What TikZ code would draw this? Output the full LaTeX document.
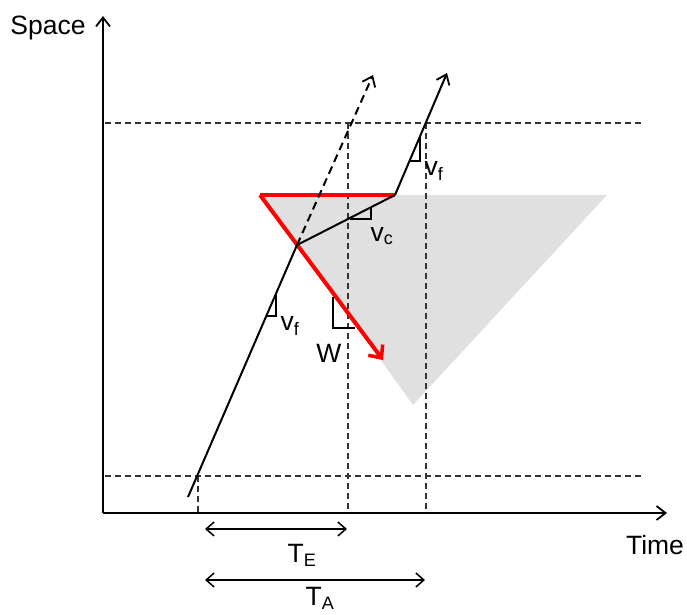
\documentclass[tikz,border=0pt]{standalone}
\usepackage{fontspec}
\setmainfont{Liberation Sans}
\usetikzlibrary{arrows.meta}
\begin{document}
\begin{tikzpicture}[x=1pt,y=-1pt,
  axis/.style={line width=2pt,-{Straight Barb[length=9pt,width=14pt,line width=1.8pt]}},
  traj/.style={line width=2pt},
  dsh/.style={line width=1.5pt,dash pattern=on 6pt off 4pt,draw=black!80},
  tri/.style={line width=1.8pt},
  lbl/.style={font=\fontsize{26.5}{30}\selectfont,inner sep=0pt},
  dim/.style={line width=1.5pt,{Straight Barb[length=8pt,width=14pt,line width=1.5pt]}-{Straight Barb[length=8pt,width=14pt,line width=1.5pt]}}
]
\useasboundingbox (0,0) rectangle (687,614);
% shaded triangle
\fill[black!12] (262,195) -- (607,195) -- (413,405) -- cycle;
% coordinates
\coordinate (O) at (103,513);
\coordinate (Ytop) at (103,16);
\coordinate (Xend) at (667,513);
\coordinate (A) at (188,497);
\coordinate (B) at (297,245);
\coordinate (C) at (395,195);
\coordinate (D) at (447,73);
\coordinate (Dd) at (373,75);
\coordinate (R0) at (260,195);
\coordinate (R1) at (383,360);
% dashed helper lines
\coordinate (h1a) at (105,123); \coordinate (h1b) at (642,123);
\coordinate (h2a) at (105,476); \coordinate (h2b) at (642,476);
\draw[dsh] (h1a) -- (h1b);
\draw[dsh] (h2a) -- (h2b);
\coordinate (v1a) at (348,123); \coordinate (v1b) at (348,513);
\coordinate (v2a) at (426,123); \coordinate (v2b) at (426,513);
\coordinate (v3a) at (198,476); \coordinate (v3b) at (198,513);
\draw[dsh] (v1a) -- (v1b);
\draw[dsh] (v2a) -- (v2b);
\draw[dsh] (v3a) -- (v3b);
% axes
\draw[axis] (O) -- (Ytop);
\draw[axis] (O) -- (Xend);
\node[lbl,anchor=center] (space) at (48,28) {Space};
\node[lbl,anchor=center] (time) at (655,545) {Time};
% red lines
\draw[red,line width=4pt] (R0) -- (C);
\draw[red,line width=4pt,-{Straight Barb[length=10pt,width=18pt,line width=3.5pt]}] (R0) -- (R1);
% trajectory
\draw[traj] (A) -- (B) -- (C);
\draw[traj,-{Straight Barb[length=9pt,width=14pt,line width=1.8pt]}] (C) -- (D);
\draw[traj,dash pattern=on 8pt off 5pt,-{Straight Barb[length=9pt,width=14pt,line width=1.8pt]}] (B) -- (Dd);
% slope triangles
\draw[tri] (276,295) -- (276,316) -- (266,316);
\draw[tri] (350,219) -- (371,219) -- (371,208);
\draw[tri] (333,297) -- (333,328) -- (355,328);
\draw[tri] (420,137) -- (420,161) -- (410,161);
\node[lbl] (vf1) at (290,326) {v\textsubscript{\fontsize{18}{20}\selectfont f}};
\node[lbl] (vc) at (382,236) {v\textsubscript{\fontsize{18}{20}\selectfont c}};
\node[lbl] (W) at (329,353) {W};
\node[lbl] (vf2) at (434,171) {v\textsubscript{\fontsize{18}{20}\selectfont f}};
% dimension arrows
\coordinate (te0) at (205,529); \coordinate (te1) at (347,529);
\coordinate (ta0) at (205,580); \coordinate (ta1) at (425,580);
\draw[dim] (te0) -- (te1);
\draw[dim] (ta0) -- (ta1);
\node[lbl] (TE) at (302,555) {T\textsubscript{\fontsize{18}{20}\selectfont E}};
\node[lbl] (TA) at (320,598) {T\textsubscript{\fontsize{18}{20}\selectfont A}};
\end{tikzpicture}
\end{document}
